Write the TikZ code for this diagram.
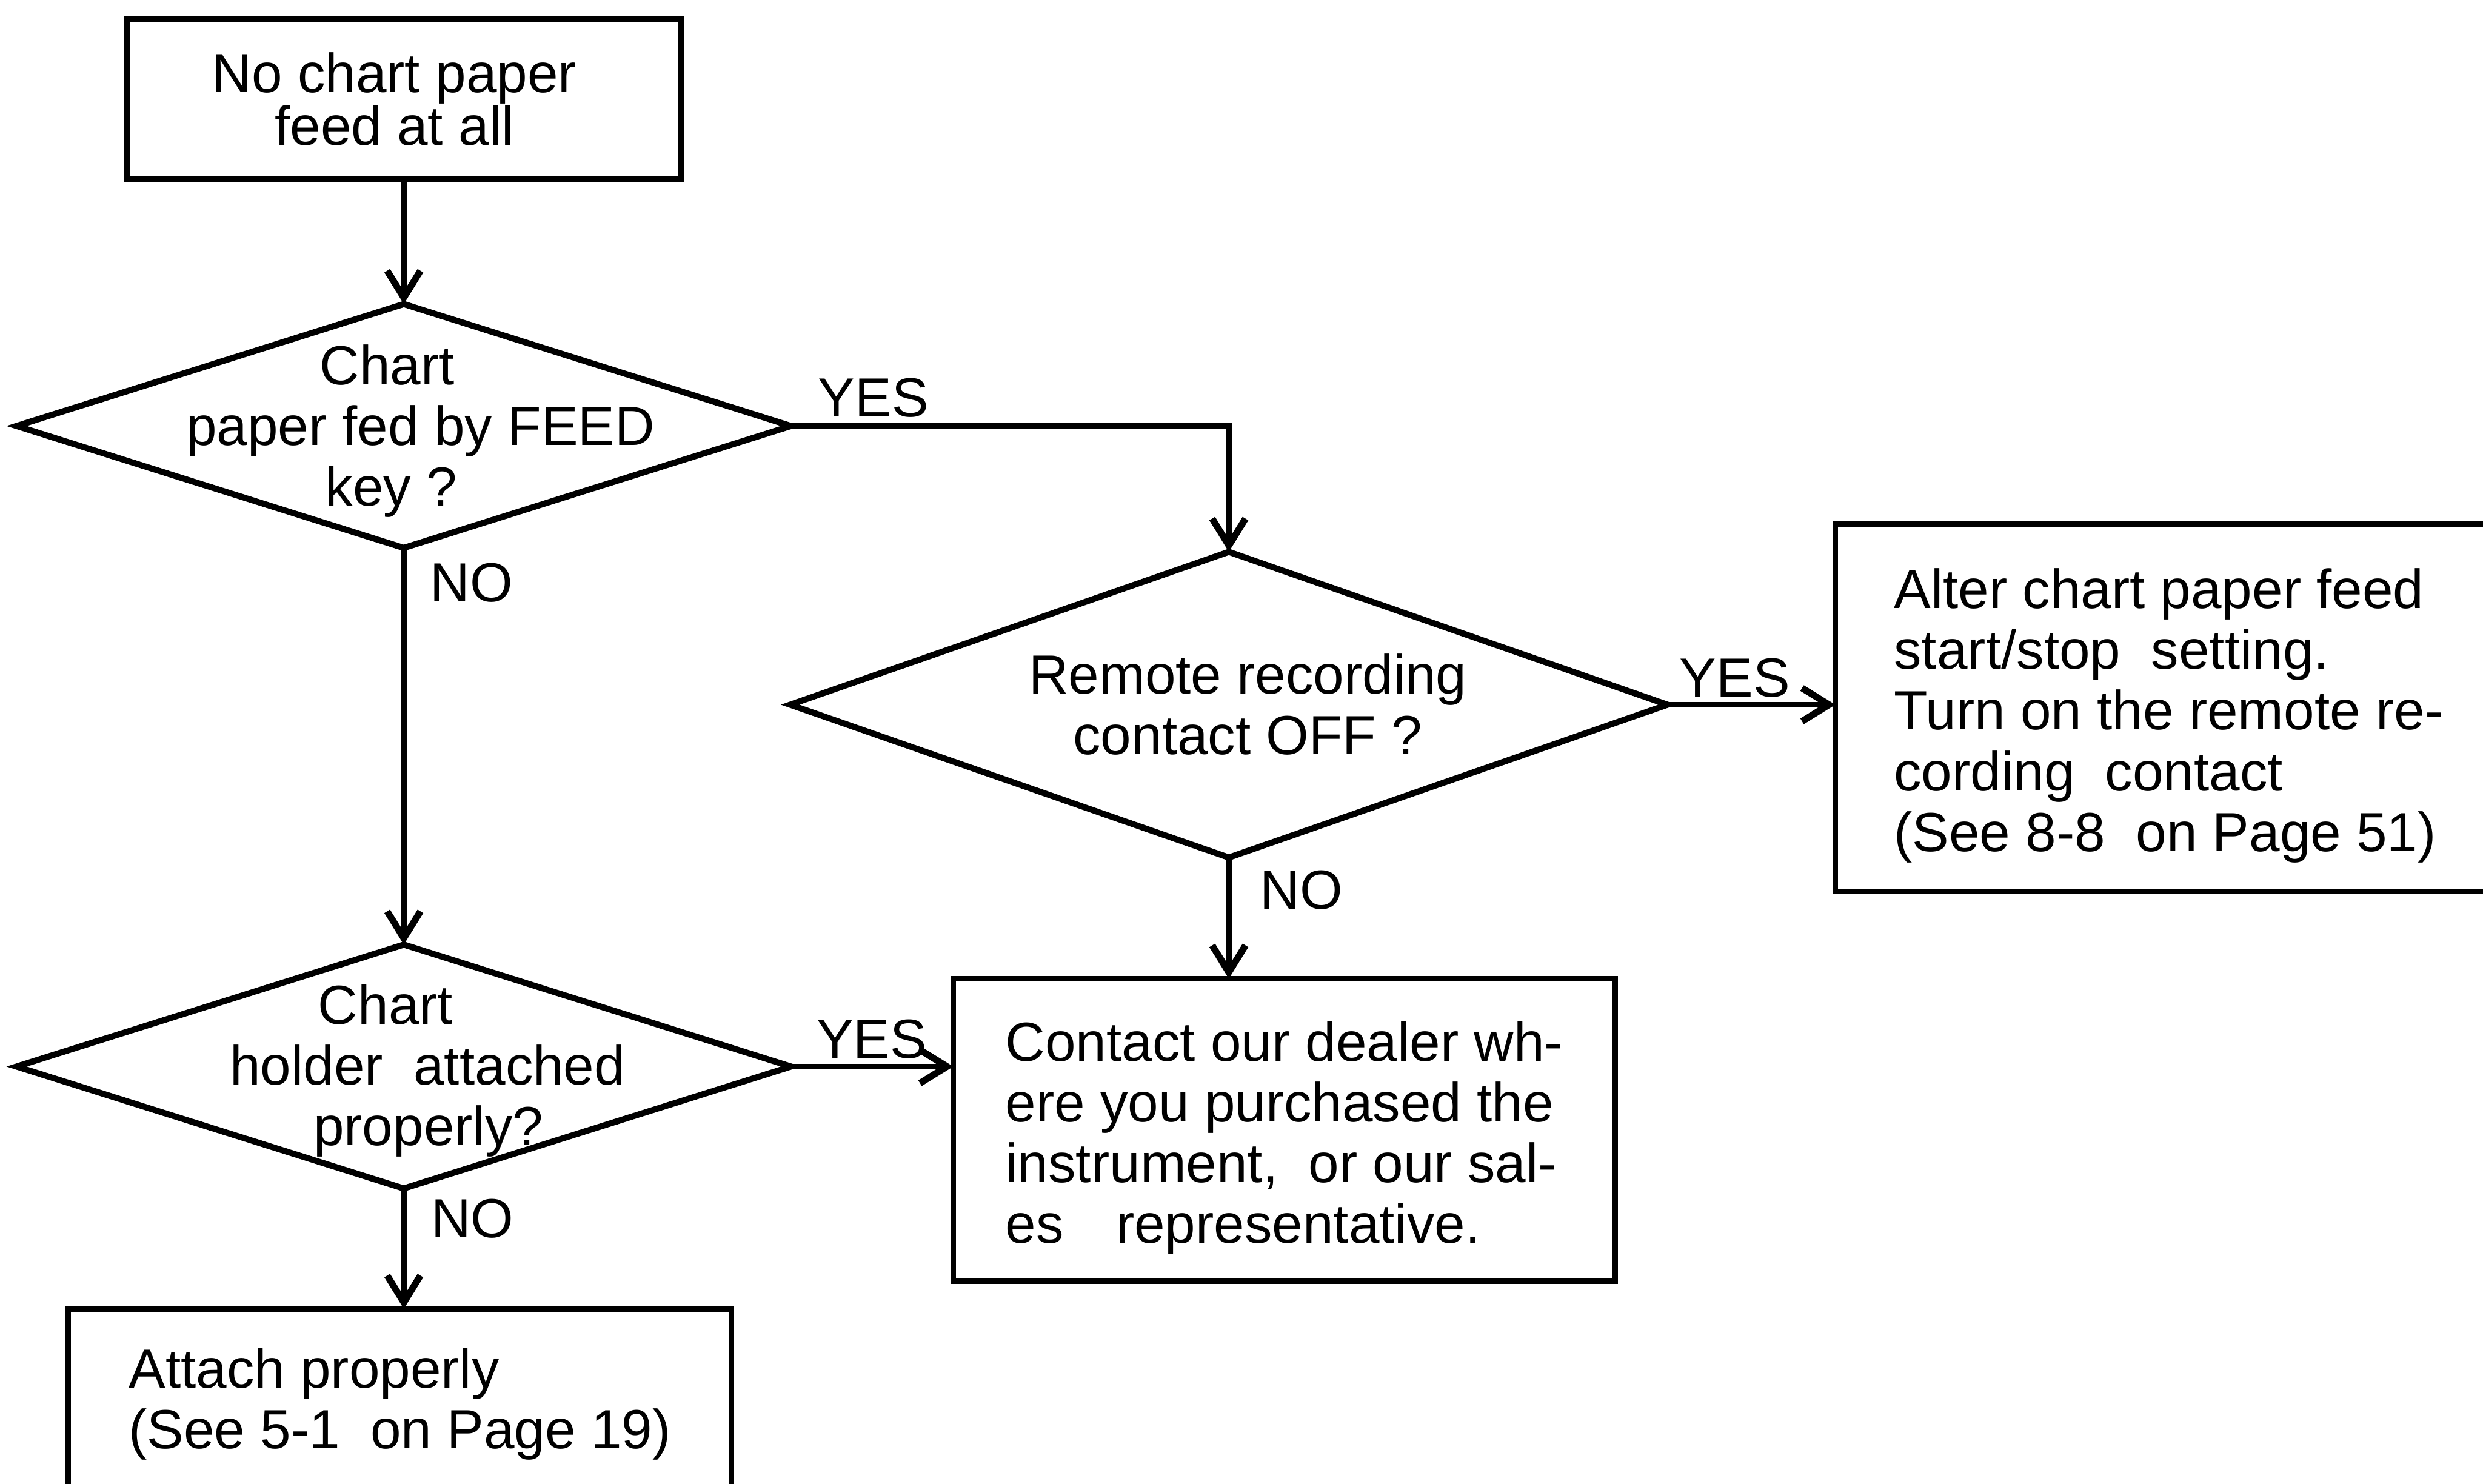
\documentclass[tikz,border=0pt]{standalone}
\usepackage{fontspec}
\setmainfont{Liberation Sans}
\usetikzlibrary{shapes.geometric,arrows.meta}
% text size used throughout the chart
\newcommand{\flowfont}{\fontsize{9.9}{10.9}\selectfont}
% invisible horizontal padding that is never removed at a line end
\newcommand{\hpad}[1]{\rule{#1}{0pt}}
% invisible vertical strut that lowers a text block a little inside its box
\newcommand{\topstrut}{\rule{0pt}{3.5mm}}
\begin{document}
\begin{tikzpicture}[x=0.1mm,y=-0.1mm,
  box/.style={draw, rectangle, line width=1pt, inner sep=0pt, outer sep=0pt, font=\flowfont},
  decision/.style={draw, diamond, line width=1.1pt, inner sep=0pt, outer sep=0pt},
  question/.style={align=center, inner sep=0pt, font=\flowfont},
  answer/.style={inner sep=0pt, font=\flowfont},
  flow/.style={line width=1pt, -{Straight Barb[length=1.7mm, width=2.1mm, line width=1.2pt]}},
]
\useasboundingbox (0,0) rectangle (1568,937);
\clip (0,0) rectangle (1568,937);

% ---- process boxes ----
\node[box, minimum width=35mm, minimum height=10.1mm, align=center,
      font={\fontsize{9.9}{9.5}\selectfont}] (start) at (255,62.5)
  {No chart paper\hpad{1.2mm}\\feed at all\hpad{1.2mm}};

\node[box, anchor=west, minimum width=42.1mm, minimum height=23.2mm, align=left] (setting) at (1159,447)
  {\topstrut Alter chart paper feed\\start/stop\ \ setting.\\Turn on the remote re-\\cording\ \ contact\\(See 8-8\ \ on Page 51)};

\node[box, minimum width=41.8mm, minimum height=19.1mm, align=left] (dealer) at (811,713.5)
  {\topstrut Contact our dealer wh-\\ere you purchased the\\instrument,\ \ or our sal-\\es\hspace{0.95em}representative.};

\node[box, minimum width=41.9mm, minimum height=12mm, align=left] (attach) at (252.5,886.5)
  {Attach properly\\(See 5-1\ \ on Page 19)};

% ---- decisions ----
\node[decision, minimum width=48.9mm, minimum height=15.4mm] (fedq) at (255,269) {};
\node[question] (fedqtext) at (256,272.3)
  {Chart\hpad{2.3mm}\\\hpad{1.9mm}paper fed by FEED\\key ?\hpad{1.8mm}};

\node[decision, minimum width=55.4mm, minimum height=19.3mm] (remoteq) at (776,445) {};
\node[question] (remoteqtext) at (788,444.7)
  {Remote recording\\contact OFF ?};

\node[decision, minimum width=48.9mm, minimum height=15.4mm] (holderq) at (255,673.5) {};
\node[question] (holderqtext) at (258,675.9)
  {Chart\hpad{2.9mm}\\\hpad{2.4mm}holder\ \ attached\\\hpad{2.5mm}properly?};

% ---- connectors ----
\draw[flow] (start.south) -- (fedq.north);
\draw[flow] (fedq.east) -| (remoteq.north);
\draw[flow] (remoteq.east) -- (remoteq.east -| setting.west);
\draw[flow] (remoteq.south) -- (remoteq.south |- dealer.north);
\draw[flow] (fedq.south) -- (holderq.north);
\draw[flow] (holderq.east) -- (holderq.east -| dealer.west);
\draw[flow] (holderq.south) -- (holderq.south |- attach.north);

% ---- branch labels ----
\node[answer, anchor=base west, xshift=1.65mm, yshift=0.6mm] (yes1) at (fedq.east) {YES};
\node[answer, anchor=base west, xshift=0.7mm, yshift=0.5mm] (yes2) at (remoteq.east) {YES};
\node[answer, anchor=base west, xshift=1.55mm, yshift=0.55mm] (yes3) at (holderq.east) {YES};
\node[answer, anchor=north west, xshift=1.6mm, yshift=-0.9mm] (no1) at (fedq.south) {NO};
\node[answer, anchor=north west, xshift=1.9mm, yshift=-0.75mm] (no2) at (remoteq.south) {NO};
\node[answer, anchor=north west, xshift=1.65mm, yshift=-0.6mm] (no3) at (holderq.south) {NO};
\end{tikzpicture}
\end{document}
